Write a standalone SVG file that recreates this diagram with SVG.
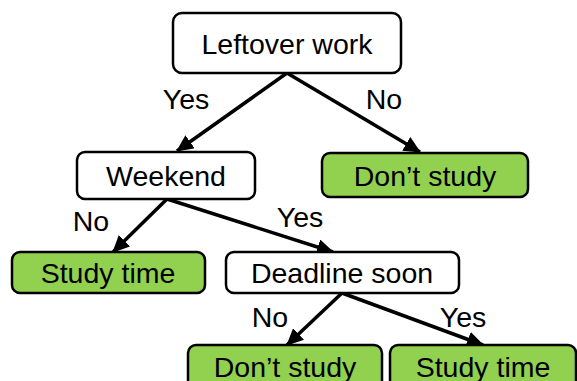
<svg xmlns="http://www.w3.org/2000/svg" width="577" height="381" viewBox="0 0 577 381">
<defs>
<marker id="ah" markerUnits="userSpaceOnUse" markerWidth="18" markerHeight="16" refX="16" refY="8" orient="auto">
<path d="M0,0 L17,8 L0,16 Z" fill="#000"/>
</marker>
<style>
.box{fill:#fff;stroke:#000;stroke-width:2.5}
.g{fill:#92D050}
.t{font-family:"Liberation Sans",Arial,sans-serif;font-size:28.5px;fill:#000;text-anchor:middle}
.c{stroke:#000;stroke-width:3.5;fill:none;marker-end:url(#ah)}
</style>
</defs>
<rect width="577" height="381" fill="#fff"/>
<g id="connectors">
<line class="c" x1="287" y1="73" x2="177" y2="151"/>
<line class="c" x1="287" y1="73" x2="420" y2="152"/>
<line class="c" x1="167" y1="199" x2="113" y2="252"/>
<line class="c" x1="167" y1="199" x2="333" y2="252"/>
<line class="c" x1="342" y1="293" x2="287" y2="345"/>
<line class="c" x1="342" y1="293" x2="483" y2="345"/>
<text class="t" x="186" y="109">Yes</text>
<text class="t" x="384" y="109">No</text>
<text class="t" x="91" y="231">No</text>
<text class="t" x="300" y="227">Yes</text>
<text class="t" x="270" y="327">No</text>
<text class="t" x="463" y="327">Yes</text>
</g>
<g id="n1"><rect class="box" x="173" y="13" width="228" height="60" rx="9"/><text class="t" x="287" y="54">Leftover work</text></g>
<g id="n2"><rect class="box" x="77" y="152" width="178" height="47" rx="8"/><text class="t" x="166" y="186">Weekend</text></g>
<g id="n3"><rect class="box g" x="322" y="153" width="206" height="44" rx="8"/><text class="t" x="425" y="186">Don’t study</text></g>
<g id="n4"><rect class="box g" x="12" y="252" width="193" height="41" rx="8"/><text class="t" x="108" y="283">Study time</text></g>
<g id="n5"><rect class="box" x="226" y="252" width="233" height="41" rx="8"/><text class="t" x="342" y="283">Deadline soon</text></g>
<g id="n6"><rect class="box g" x="188" y="345" width="194" height="45" rx="8"/><text class="t" x="285" y="377">Don’t study</text></g>
<g id="n7"><rect class="box g" x="390" y="345" width="186" height="45" rx="8"/><text class="t" x="483" y="377">Study time</text></g>
</svg>
